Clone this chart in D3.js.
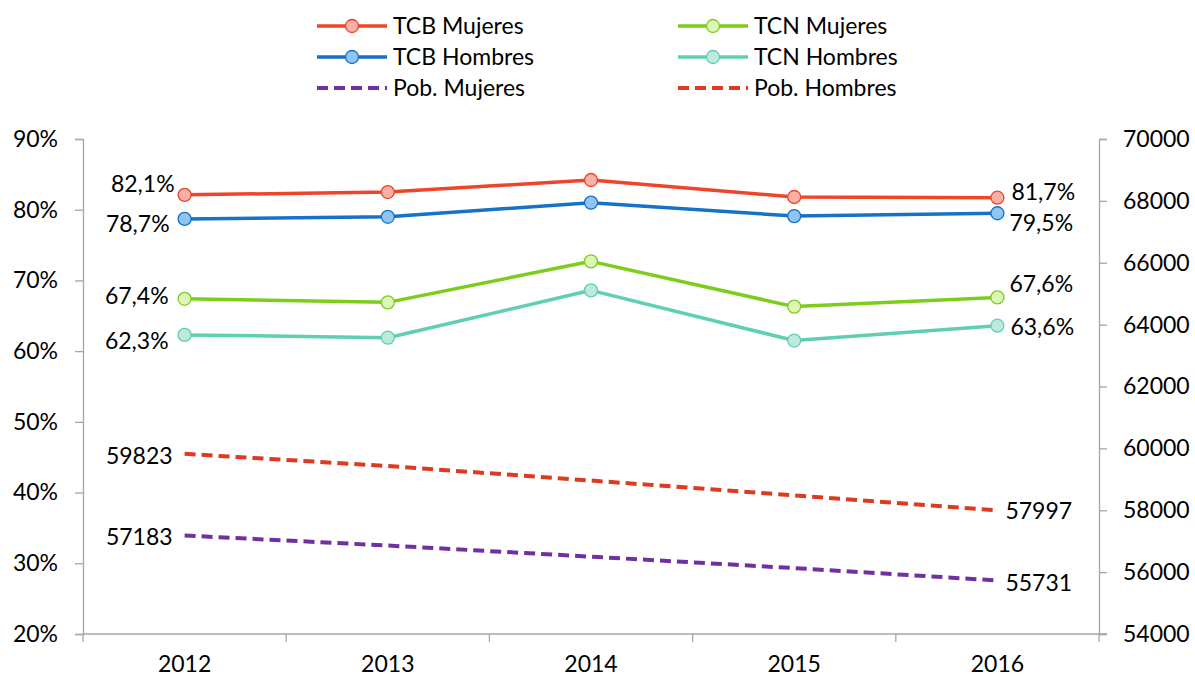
<!DOCTYPE html>
<html>
<head>
<meta charset="utf-8">
<script src="https://cdn.jsdelivr.net/npm/d3@7"></script>
<style>
  body { margin: 0; background: #fff; }
  text { font-family: Lato, "Open Sans", sans-serif; fill: #000; }
</style>
</head>
<body>
<svg width="1195" height="680"></svg>
<script>
const years = ['2012', '2013', '2014', '2015', '2016'];
const tcbMujeres = [82.1, 82.5, 84.2, 81.8, 81.7];
const tcbHombres = [78.7, 79.0, 81.0, 79.1, 79.5];
const tcnMujeres = [67.4, 66.9, 72.7, 66.3, 67.6];
const tcnHombres = [62.3, 61.9, 68.6, 61.5, 63.6];
const pobMujeres = [57183, 56860, 56500, 56130, 55731];
const pobHombres = [59823, 59430, 58960, 58480, 57997];
const leftTicks = [20, 30, 40, 50, 60, 70, 80, 90];
const rightTicks = [54000, 56000, 58000, 60000, 62000, 64000, 66000, 68000, 70000];

const fmtPct = d => d3.format('.1f')(d).replace('.', ',') + '%';
const fs = 23;

// series config: axis, colours, where the end labels go
const series = [
  { name: 'TCB Mujeres', values: tcbMujeres, axis: 'left', color: '#ee4429', fill: '#f6b0a6', marker: true,
    lab0: [-10, -11], lab1: [14, -6] },
  { name: 'TCN Mujeres', values: tcnMujeres, axis: 'left', color: '#7ccc1c', fill: '#ddf6b5', marker: true,
    lab0: [-16, -3], lab1: [12, -13] },
  { name: 'TCB Hombres', values: tcbHombres, axis: 'left', color: '#1572c6', fill: '#8ec5f4', marker: true,
    lab0: [-15, 5], lab1: [12, 10] },
  { name: 'TCN Hombres', values: tcnHombres, axis: 'left', color: '#5ecfb2', fill: '#bdeadc', marker: true,
    lab0: [-16, 6], lab1: [13, 1] },
  { name: 'Pob. Mujeres', values: pobMujeres, axis: 'right', color: '#7030a0', dashed: true,
    lab0: [-12, 1], lab1: [8, 3] },
  { name: 'Pob. Hombres', values: pobHombres, axis: 'right', color: '#dd3b20', dashed: true,
    lab0: [-12, 2], lab1: [8, 1] }
];

const svg = d3.select('svg');
const mLeft = 83, mRight = 1099, mTop = 139, mBottom = 634;
const axisColor = '#a6a6a6';

const x = d3.scaleBand().domain(years).range([mLeft, mRight]);
const xc = d => x(d) + x.bandwidth() / 2;
const yL = d3.scaleLinear().domain([20, 90]).range([mBottom, mTop]);
const yR = d3.scaleLinear().domain([54000, 70000]).range([mBottom, mTop]);

// axes
const gl = svg.append('g').attr('transform', `translate(${mLeft},0)`)
  .call(d3.axisLeft(yL).tickValues(leftTicks).tickSize(8).tickPadding(17).tickFormat(d => d + '%'));
const gr = svg.append('g').attr('transform', `translate(${mRight},0)`)
  .call(d3.axisRight(yR).tickValues(rightTicks).tickSize(8).tickPadding(16).tickFormat(d3.format('d')));
const gb = svg.append('g').attr('transform', `translate(0,${mBottom})`)
  .call(d3.axisBottom(x).tickSize(0).tickPadding(22));

[gl, gr, gb].forEach(g => {
  g.select('.domain').attr('stroke', axisColor).attr('stroke-width', 1.3);
  g.selectAll('.tick line').attr('stroke', axisColor).attr('stroke-width', 1.3);
  g.selectAll('.tick text').attr('font-size', fs).attr('font-family', 'Lato, sans-serif');
});
gb.select('.domain').attr('d', `M${mLeft},0H${mRight + 8}`);

// x tick marks between categories
svg.append('g').selectAll('line')
  .data(years.map(d => x(d)).concat([mRight]))
  .enter().append('line')
  .attr('x1', d => d).attr('x2', d => d)
  .attr('y1', mBottom).attr('y2', mBottom + 8)
  .attr('stroke', axisColor).attr('stroke-width', 1.3);

// lines
const yFor = s => s.axis === 'left' ? yL : yR;
series.forEach(s => {
  const y = yFor(s);
  const line = d3.line().x((d, i) => xc(years[i])).y(d => y(d));
  svg.append('path')
    .datum(s.values)
    .attr('d', line)
    .attr('fill', 'none')
    .attr('stroke', s.color)
    .attr('stroke-width', s.dashed ? 4 : 3.5)
    .attr('stroke-dasharray', s.dashed ? '11 6' : null)
    .attr('stroke-linejoin', 'round');

  if (s.marker) {
    svg.append('g').selectAll('circle')
      .data(s.values)
      .enter().append('circle')
      .attr('cx', (d, i) => xc(years[i]))
      .attr('cy', d => y(d))
      .attr('r', 6.5)
      .attr('fill', s.fill)
      .attr('stroke', s.color)
      .attr('stroke-width', 1.3);
  }

  // end labels
  const fmt = s.axis === 'left' ? fmtPct : d3.format('d');
  const n = s.values.length - 1;
  svg.append('text')
    .attr('x', xc(years[0]) + s.lab0[0])
    .attr('y', y(s.values[0]) + s.lab0[1])
    .attr('dy', '0.35em')
    .attr('text-anchor', 'end')
    .attr('font-size', fs)
    .text(fmt(s.values[0]));
  svg.append('text')
    .attr('x', xc(years[n]) + s.lab1[0])
    .attr('y', y(s.values[n]) + s.lab1[1])
    .attr('dy', '0.35em')
    .attr('text-anchor', 'start')
    .attr('font-size', fs)
    .text(fmt(s.values[n]));
});

// legend
const legend = svg.append('g').selectAll('g')
  .data(series)
  .enter().append('g')
  .attr('transform', (d, i) => `translate(${317 + (i % 2) * 361},${26 + Math.floor(i / 2) * 31})`);

legend.append('line')
  .attr('x1', 0).attr('x2', 70)
  .attr('stroke', d => d.color)
  .attr('stroke-width', d => d.dashed ? 4 : 3.5)
  .attr('stroke-dasharray', d => d.dashed ? '11 6' : null);

legend.filter(d => d.marker).append('circle')
  .attr('cx', 35).attr('r', 6.5)
  .attr('fill', d => d.fill)
  .attr('stroke', d => d.color)
  .attr('stroke-width', 1.3);

legend.append('text')
  .attr('x', 76)
  .attr('dy', '0.35em')
  .attr('font-size', fs)
  .text(d => d.name);
</script>
</body>
</html>
